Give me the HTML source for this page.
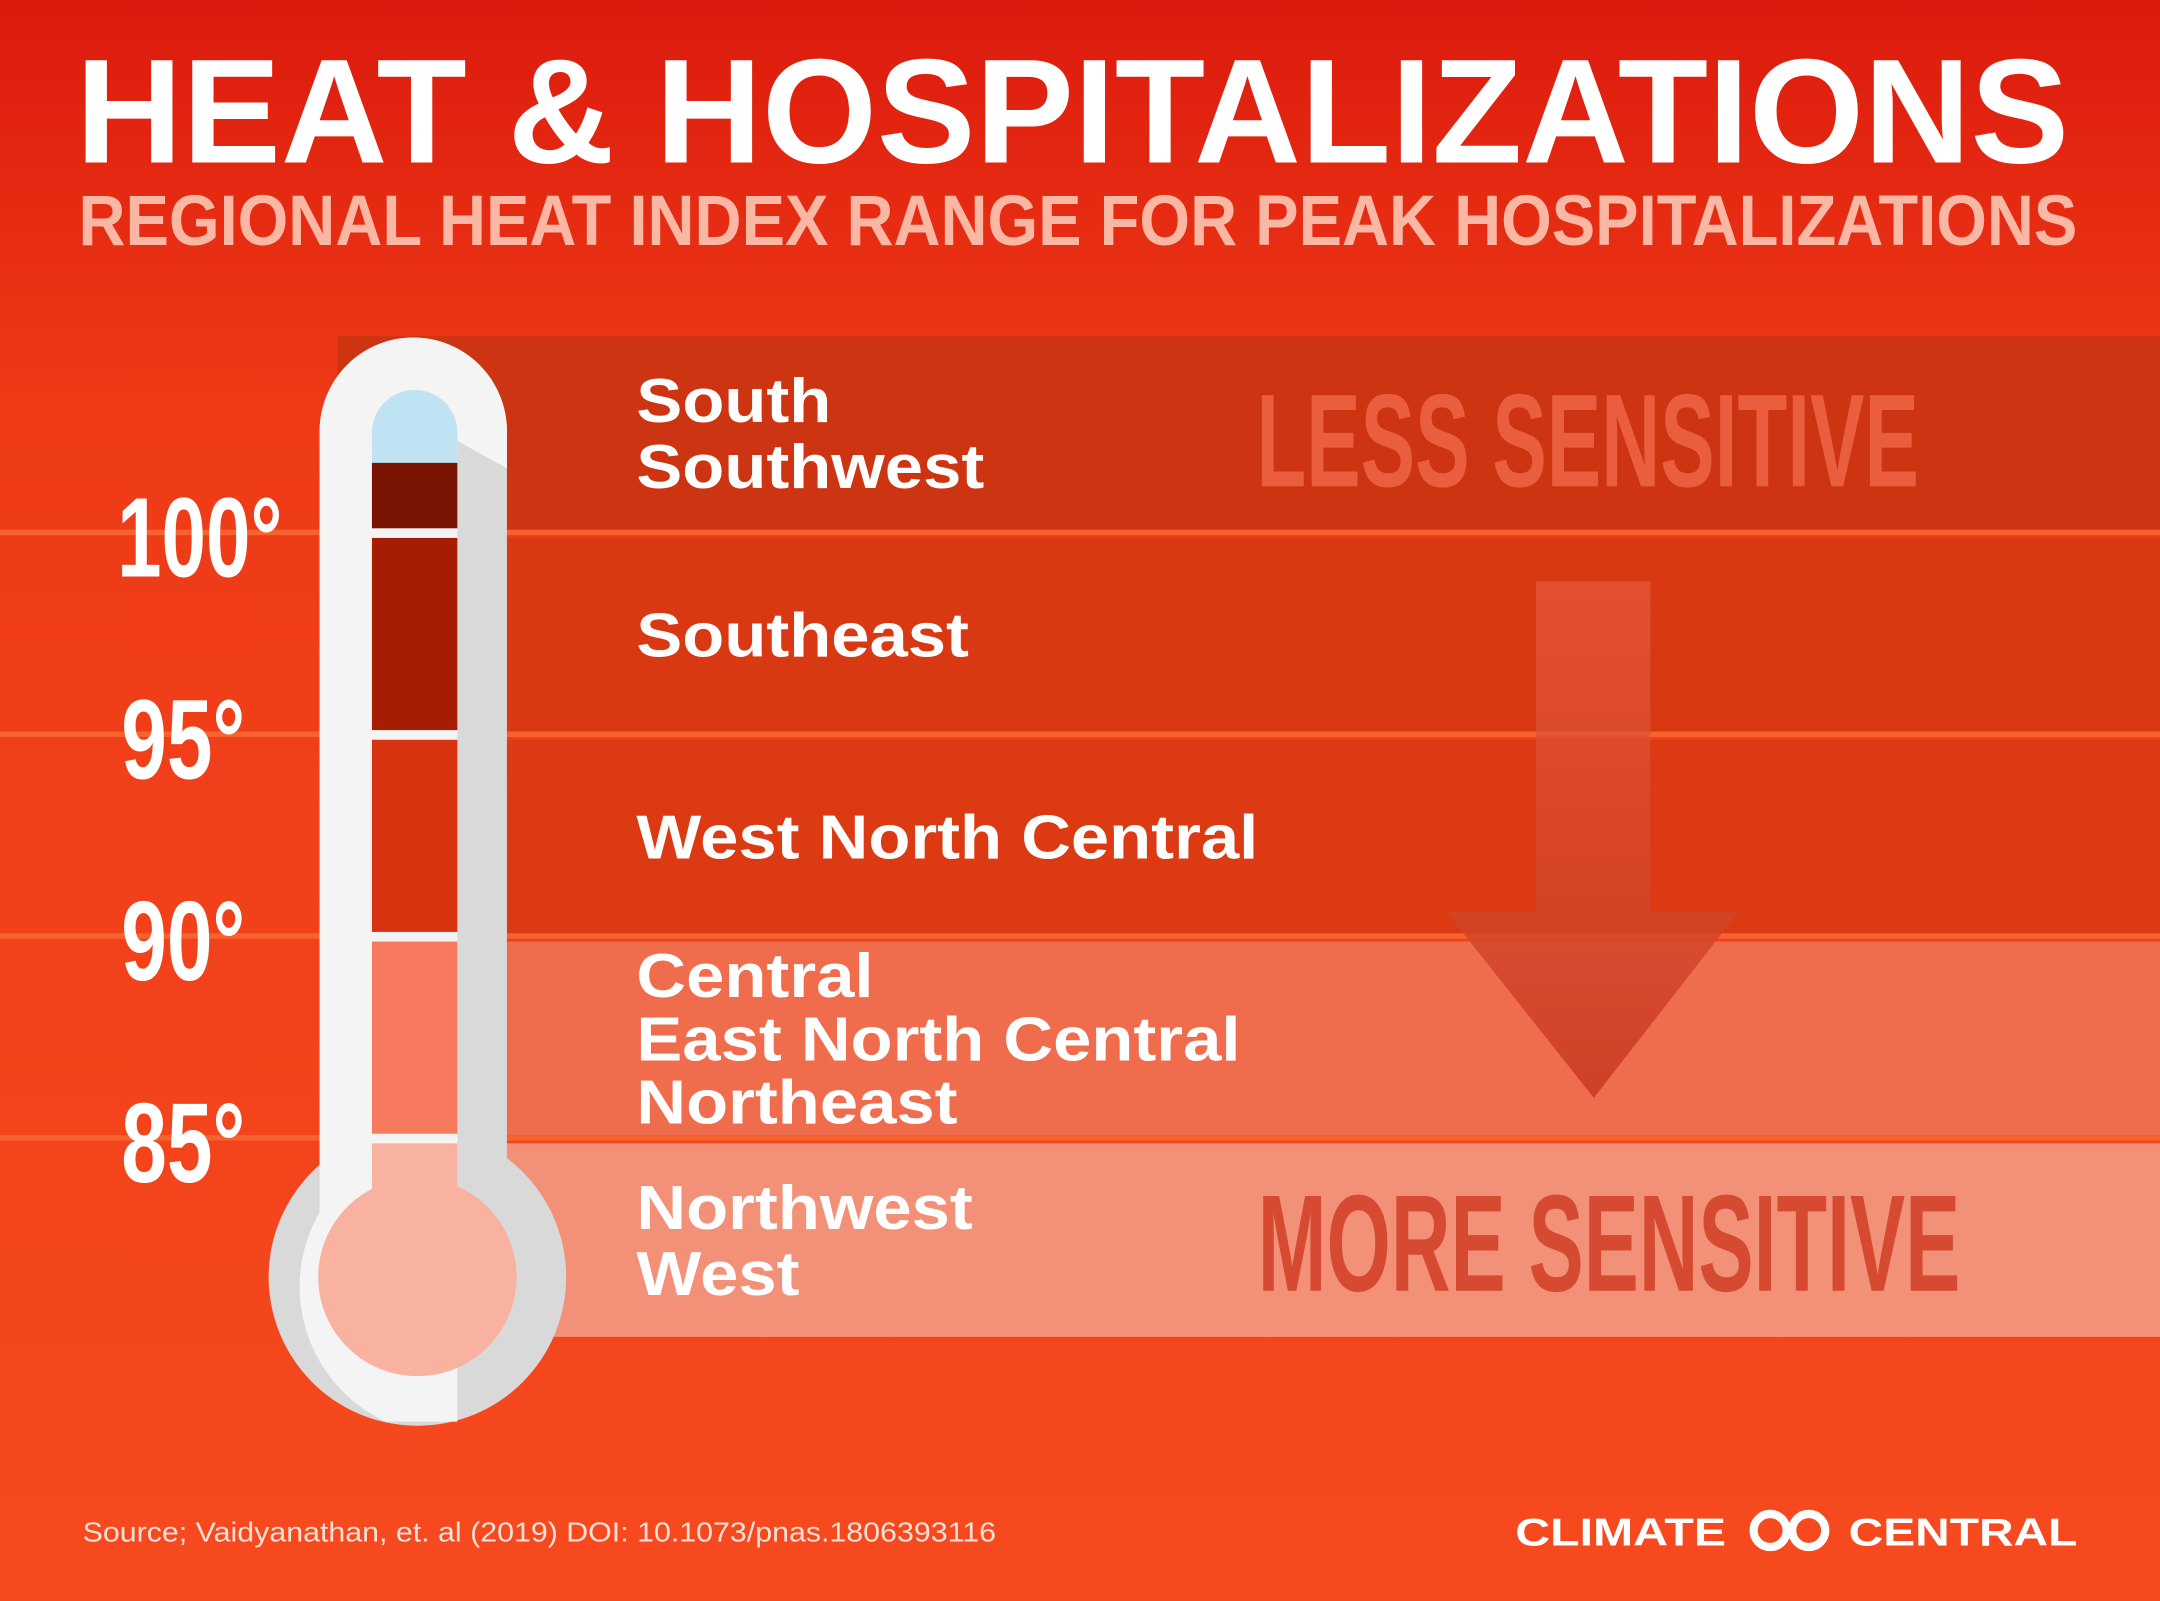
<!DOCTYPE html>
<html><head><meta charset="utf-8"><style>
html,body{margin:0;padding:0;background:#e52c12;}
svg{display:block;}
</style></head><body>
<svg id="chart" width="2160" height="1601" viewBox="0 0 1568 1162.2" preserveAspectRatio="none" xmlns="http://www.w3.org/2000/svg" font-family="Liberation Sans, sans-serif">
<defs>
<linearGradient id="bg" x1="0" y1="0" x2="0" y2="1">
<stop offset="0" stop-color="#dc1a0d"/><stop offset="0.25" stop-color="#ee3a17"/><stop offset="1" stop-color="#f64a1f"/>
</linearGradient>
<linearGradient id="arrowG" x1="0" y1="0" x2="0" y2="1">
<stop offset="0" stop-color="#e65a3c" stop-opacity="0.7"/><stop offset="1" stop-color="#c8391f" stop-opacity="0.85"/>
</linearGradient>
</defs>
<rect x="0" y="0" width="1568" height="1162.2" fill="url(#bg)"/>
<g id="bands"></g>
<text x="55" y="118" font-size="108" font-weight="bold" fill="#fff" textLength="1447" lengthAdjust="spacingAndGlyphs">HEAT &amp; HOSPITALIZATIONS</text>
<text x="57" y="178" font-size="52" font-weight="bold" fill="#f9b7a4" textLength="1451" lengthAdjust="spacingAndGlyphs">REGIONAL HEAT INDEX RANGE FOR PEAK HOSPITALIZATIONS</text>
<g id="thermo"></g>
<g id="ticks"></g>
<g id="labels"></g>
<text x="912" y="353" font-size="96" font-weight="bold" fill="#ea5e3e" textLength="481" lengthAdjust="spacingAndGlyphs">LESS SENSITIVE</text>
<path d="M1115,422 L1198,422 L1198,662 L1262,662 L1157,797 L1050,662 L1115,662 Z" fill="url(#arrowG)"/>
<text x="913" y="937" font-size="100" font-weight="bold" fill="#d54a30" textLength="510" lengthAdjust="spacingAndGlyphs">MORE SENSITIVE</text>
<text x="60" y="1119" font-size="20" fill="#fde0d6" textLength="663" lengthAdjust="spacingAndGlyphs">Source; Vaidyanathan, et. al (2019) DOI: 10.1073/pnas.1806393116</text>
<g>
<text x="1100" y="1122" font-size="28" font-weight="bold" fill="#fff" textLength="153" lengthAdjust="spacingAndGlyphs">CLIMATE</text>
<circle cx="1285" cy="1111" r="12" fill="none" stroke="#fff" stroke-width="6"/>
<circle cx="1313" cy="1111" r="12" fill="none" stroke="#fff" stroke-width="6"/>
<text x="1342" y="1122" font-size="28" font-weight="bold" fill="#fff" textLength="166" lengthAdjust="spacingAndGlyphs">CENTRAL</text>
</g>
</svg>
<script>
const tempTicks = [100, 95, 90, 85];
const bandHigh = [105, 100, 95, 90, 85];
const bandLow = [100, 95, 90, 85, 80];
const bandRegions = [["South","Southwest"],["Southeast"],["West North Central"],["Central","East North Central","Northeast"],["Northwest","West"]];
const NS = "http://www.w3.org/2000/svg";
function y(t){ return 533 - (t - 95) * 29.3; }
function mk(tag, attrs, parent){ const e=document.createElementNS(NS,tag); for(const k in attrs) e.setAttribute(k,attrs[k]); parent.appendChild(e); return e; }
const bandFill = ["#cc3412","#d83913","#db3a12","#ef6c4d","#f29078"];
const bandX = [245, 368, 368, 368, 368];
const tubeFill = ["#7a1402","#a61d04","#d8320f","#f87a5e","#f9b2a0"];
const bands = document.getElementById('bands');
for (let i=0;i<bandHigh.length;i++){
  const r = mk('rect',{x:bandX[i], y:y(bandHigh[i])+4, width:1568-bandX[i], height:y(bandLow[i])-y(bandHigh[i])-6, fill:bandFill[i]}, bands);
  
  
  if(i>0){
    const l = mk('rect',{x:0, y:y(bandHigh[i])-2, width:1568, height:4, fill:"#f6632e"}, bands);
    
    
  }
}
const th = document.getElementById('thermo');
mk('circle',{cx:303,cy:927,r:108,fill:"#d9d9d9"},th);
mk('rect',{x:232,y:245,width:136,height:720,rx:68,fill:"#d9d9d9"},th);
mk('path',{d:"M300,245 A68,68 0 0 0 232,313 L232,880 A108,108 0 0 0 280,1032 L332,1032 L332,320 L368,340 L368,313 A68,68 0 0 0 300,245 Z",fill:"#f4f4f4"},th);
mk('rect',{x:270,y:283,width:62,height:70,rx:31,fill:"#bfe3f2"},th);
mk('rect',{x:270,y:315,width:62,height:21,fill:"#bfe3f2"},th);
for (let i=0;i<bandHigh.length;i++){
  const top = i===0 ? 336 : y(bandHigh[i])+4;
  const bot = i===bandHigh.length-1 ? 880 : y(bandLow[i])-3;
  const s = mk('rect',{x:270,y:top,width:62,height:bot-top,fill:tubeFill[i]},th);
  
  
}
const bulb = mk('circle',{cx:303,cy:927,r:72,fill:tubeFill[4]},th);


const ticks = document.getElementById('ticks');
tempTicks.forEach(t=>{
  const tx = mk('text',{x: t>=100?85:88, y:y(t)+32, "font-size":82, "font-weight":"bold", fill:"#fff", textLength: t>=100?120:90, lengthAdjust:"spacingAndGlyphs"}, ticks);
  tx.textContent = t + "°";
  
  
});
const labels = document.getElementById('labels');
bandRegions.forEach((lines,i)=>{
  const mid = (y(bandHigh[i])+y(bandLow[i]))/2;
  const lh = lines.length===3 ? 46 : 48;
  const start = mid - (lines.length-1)*lh/2 + 17;
  lines.forEach((s,j)=>{
    const tx = mk('text',{x:462, y:start+j*lh, "font-size":45, "font-weight":"bold", fill:"#fff"}, labels);
    tx.textContent = s;
    
    
    const len = tx.getComputedTextLength();
    if (len > 0) { tx.setAttribute('textLength', (len*1.11).toFixed(1)); tx.setAttribute('lengthAdjust','spacingAndGlyphs'); }
  });
});
</script>
</body></html>
